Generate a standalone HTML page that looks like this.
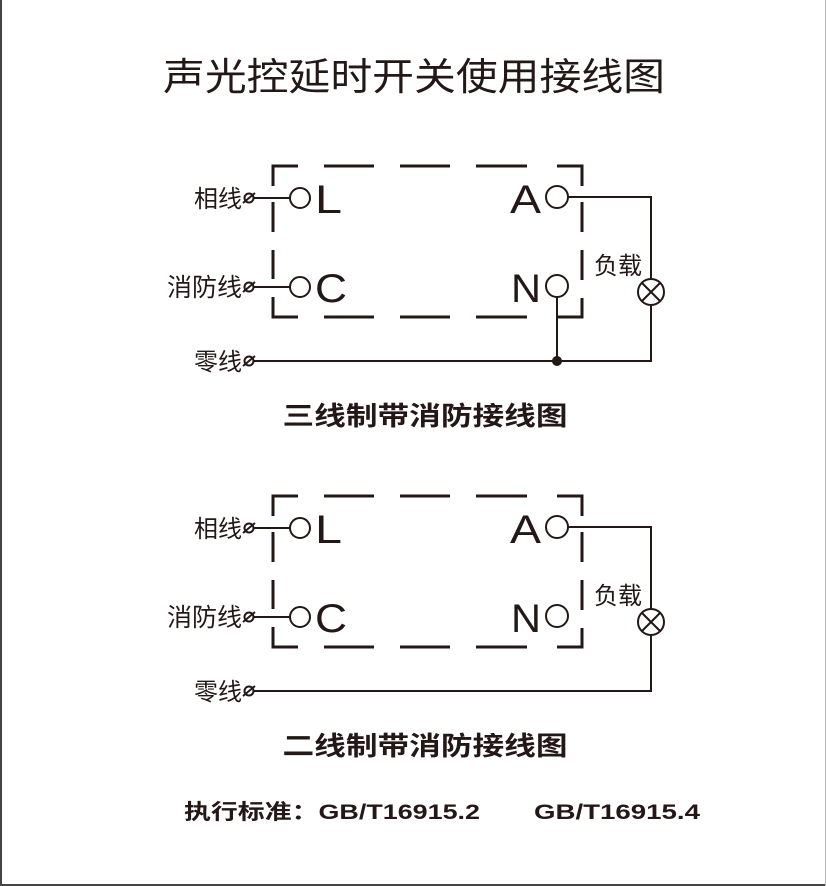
<!DOCTYPE html>
<html><head><meta charset="utf-8"><style>
html,body{margin:0;padding:0;background:#fff}
svg{display:block}
text{font-family:"Liberation Sans","Noto Sans CJK SC",sans-serif;fill:#231815}
</style></head><body>
<svg width="826" height="886" viewBox="0 0 826 886" xmlns="http://www.w3.org/2000/svg">
<rect x="0" y="0" width="826" height="886" fill="#fff"/>
<line x1="1" y1="0" x2="1" y2="886" stroke="#444" stroke-width="2"/>
<line x1="0" y1="885" x2="826" y2="885" stroke="#444" stroke-width="2"/>
<line x1="825.5" y1="0" x2="825.5" y2="886" stroke="#bbb" stroke-width="1"/>

<text x="414" y="90" font-size="38" text-anchor="middle" textLength="502" lengthAdjust="spacingAndGlyphs">声光控延时开关使用接线图</text>

<defs>
<g id="box" stroke="#231815" stroke-width="3" fill="none">
  <path d="M298 166 H273 V186 M273 202 V232 M273 250 V279 M273 297 V317 H298"/>
  <path d="M557 166 H582 V186 M582 202 V232 M582 250 V280 M582 298 V317 H557"/>
  <path d="M324 166 H374 M400 166 H450 M476 166 H527"/>
  <path d="M324 317 H374 M400 317 H450 M476 317 H527"/>
</g>
<g id="common">
  <use href="#box"/>
  <g stroke="#231815" stroke-width="2" fill="none">
    <circle cx="300" cy="198" r="10"/>
    <circle cx="300" cy="287" r="10"/>
    <circle cx="557" cy="197" r="11"/>
    <circle cx="557" cy="286" r="11"/>
    <line x1="254" y1="198" x2="290" y2="198"/>
    <line x1="254" y1="287" x2="290" y2="287"/>
    <path d="M568 197 H651 V279 M651 305 V361 H254"/>
    <circle cx="651" cy="292" r="13"/>
    <line x1="642" y1="283" x2="660" y2="301"/>
    <line x1="660" y1="283" x2="642" y2="301"/>
    <circle cx="249" cy="198" r="4.5"/>
    <circle cx="249" cy="287" r="4.5"/>
    <circle cx="249" cy="361" r="4.5"/>
    <line x1="243" y1="203" x2="255" y2="193"/>
    <line x1="243" y1="292" x2="255" y2="282"/>
    <line x1="243" y1="366" x2="255" y2="356"/>
  </g>
  <text x="315" y="213" font-size="40" textLength="27" lengthAdjust="spacingAndGlyphs">L</text>
  <text x="315" y="302" font-size="40" textLength="32" lengthAdjust="spacingAndGlyphs">C</text>
  <text x="510" y="213" font-size="40" textLength="31" lengthAdjust="spacingAndGlyphs">A</text>
  <text x="511" y="302" font-size="40" textLength="30" lengthAdjust="spacingAndGlyphs">N</text>
  <text x="242" y="207" font-size="24" text-anchor="end">相线</text>
  <text x="242" y="296" font-size="25" text-anchor="end">消防线</text>
  <text x="242" y="370" font-size="24" text-anchor="end">零线</text>
  <text x="594" y="274" font-size="24">负载</text>
</g>
</defs>

<use href="#common"/>
<path d="M557 297 V361" stroke="#231815" stroke-width="2"/>
<circle cx="557" cy="361" r="5" fill="#231815"/>
<text x="425" y="425" font-size="26" font-weight="bold" text-anchor="middle" textLength="285" lengthAdjust="spacingAndGlyphs">三线制带消防接线图</text>

<g transform="translate(0,330)"><use href="#common"/></g>
<text x="425" y="755" font-size="26" font-weight="bold" text-anchor="middle" textLength="285" lengthAdjust="spacingAndGlyphs">二线制带消防接线图</text>

<text x="184" y="819" font-size="21" font-weight="bold" textLength="296" lengthAdjust="spacingAndGlyphs">执行标准：GB/T16915.2</text>
<text x="534" y="819" font-size="21" font-weight="bold" textLength="166" lengthAdjust="spacingAndGlyphs">GB/T16915.4</text>
</svg>
</body></html>
